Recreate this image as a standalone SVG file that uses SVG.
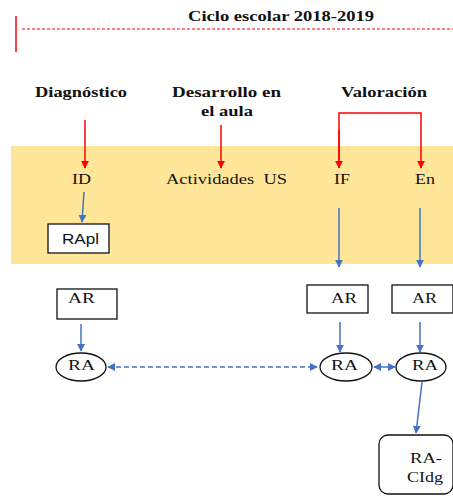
<svg xmlns="http://www.w3.org/2000/svg" width="453" height="500" viewBox="0 0 453 500">
  <style>
    text { fill: #111; font-size: 15px; }
    .bold { font-weight: bold; }
    .sans { font-size: 14px; }
    .box { fill: #fff; stroke: #111; stroke-width: 1.3; }
    .red { stroke: #ff0000; stroke-width: 1.5; fill: none; }
    .blue { stroke: #4472c4; stroke-width: 1.5; fill: none; }
  </style>
  <defs>
    <marker id="arrRed" viewBox="0 0 10 10" refX="9" refY="5" markerWidth="8" markerHeight="8" markerUnits="userSpaceOnUse" orient="auto">
      <path d="M0,0 L10,5 L0,10 z" fill="#ff0000"/>
    </marker>
    <marker id="arrBlue" viewBox="0 0 10 10" refX="9" refY="5" markerWidth="8" markerHeight="8" markerUnits="userSpaceOnUse" orient="auto-start-reverse">
      <path d="M0,0 L10,5 L0,10 z" fill="#4472c4"/>
    </marker>
  </defs>

  <g font-family="'Liberation Serif', 'Times New Roman', serif">
  <!-- school-year timeline -->
  <g id="timeline">
    <line x1="16" y1="16" x2="16" y2="52" stroke="#ff0000" stroke-width="1.5"/>
    <line x1="22" y1="29" x2="453" y2="29" stroke="#ff0000" stroke-width="1" stroke-dasharray="3,2"/>
    <text class="bold" x="188" y="21" textLength="186" lengthAdjust="spacingAndGlyphs">Ciclo escolar 2018-2019</text>
  </g>

  <!-- yellow band -->
  <rect x="11" y="146" width="442" height="118" fill="#ffe699"/>

  <!-- stage headings -->
  <g id="diagnostico"><text class="bold" x="35" y="97" textLength="92" lengthAdjust="spacingAndGlyphs">Diagnóstico</text></g>
  <g id="desarrollo">
    <text class="bold" x="172" y="97" textLength="109" lengthAdjust="spacingAndGlyphs">Desarrollo en</text>
    <text class="bold" x="201" y="116" textLength="52" lengthAdjust="spacingAndGlyphs">el aula</text>
  </g>
  <g id="valoracion"><text class="bold" x="341" y="97" textLength="86" lengthAdjust="spacingAndGlyphs">Valoración</text></g>

  <!-- band items -->
  <g id="ID"><text x="72" y="184" textLength="19" lengthAdjust="spacingAndGlyphs">ID</text></g>
  <g id="actividades"><text x="166" y="184" textLength="121" lengthAdjust="spacingAndGlyphs" xml:space="preserve">Actividades  US</text></g>
  <g id="IF"><text x="334" y="184" textLength="16" lengthAdjust="spacingAndGlyphs">IF</text></g>
  <g id="En"><text x="415" y="184" textLength="20" lengthAdjust="spacingAndGlyphs">En</text></g>

  <g id="RApl">
    <rect class="box" x="48" y="224" width="61" height="29"/>
    <text class="sans" font-family="'Liberation Sans', Arial, sans-serif" x="62" y="244" textLength="37" lengthAdjust="spacingAndGlyphs">RApl</text>
  </g>

  <!-- lower nodes -->
  <g id="AR1">
    <rect class="box" x="57" y="289" width="60" height="30"/>
    <text x="68" y="303" textLength="27" lengthAdjust="spacingAndGlyphs">AR</text>
  </g>
  <g id="AR2">
    <rect class="box" x="307" y="285" width="61" height="28"/>
    <text x="331" y="303" textLength="26" lengthAdjust="spacingAndGlyphs">AR</text>
  </g>
  <g id="AR3">
    <rect class="box" x="392" y="285" width="61" height="28"/>
    <text x="412" y="303" textLength="25" lengthAdjust="spacingAndGlyphs">AR</text>
  </g>

  <g id="RA1">
    <ellipse class="box" cx="81" cy="367" rx="25" ry="14"/>
    <text x="68" y="370" textLength="27" lengthAdjust="spacingAndGlyphs">RA</text>
  </g>
  <g id="RA2">
    <ellipse class="box" cx="346" cy="367" rx="26" ry="14"/>
    <text x="331" y="370" textLength="27" lengthAdjust="spacingAndGlyphs">RA</text>
  </g>
  <g id="RA3">
    <ellipse class="box" cx="421" cy="367" rx="25" ry="14"/>
    <text x="412" y="370" textLength="26" lengthAdjust="spacingAndGlyphs">RA</text>
  </g>

  <g id="RA-CIdg">
    <rect class="box" x="379" y="435" width="74" height="59" rx="9"/>
    <text x="410" y="463" textLength="32" lengthAdjust="spacingAndGlyphs">RA-</text>
    <text x="407" y="482" textLength="36" lengthAdjust="spacingAndGlyphs">CIdg</text>
  </g>
  </g>

  <!-- connectors -->
  <g id="connectors">
    <line class="red" x1="85" y1="120" x2="85" y2="168" marker-end="url(#arrRed)"/>
    <line class="red" x1="221" y1="125" x2="221" y2="168" marker-end="url(#arrRed)"/>
    <polyline class="red" points="339,168 339,113 421,113 421,168" marker-end="url(#arrRed)"/>
    <line class="red" x1="339" y1="130" x2="339" y2="168" marker-end="url(#arrRed)"/>

    <line class="blue" x1="84" y1="192" x2="82" y2="222" marker-end="url(#arrBlue)"/>
    <line class="blue" x1="339" y1="208" x2="339" y2="267" marker-end="url(#arrBlue)"/>
    <line class="blue" x1="420" y1="208" x2="420" y2="267" marker-end="url(#arrBlue)"/>

    <line class="blue" x1="81" y1="324" x2="81" y2="351" marker-end="url(#arrBlue)"/>
    <line class="blue" x1="340" y1="322" x2="340" y2="352" marker-end="url(#arrBlue)"/>
    <line class="blue" x1="420" y1="322" x2="420" y2="352" marker-end="url(#arrBlue)"/>

    <line class="blue" x1="108" y1="367" x2="317" y2="367" stroke-dasharray="5,3" marker-start="url(#arrBlue)" marker-end="url(#arrBlue)"/>
    <line class="blue" x1="374" y1="367" x2="395" y2="367" marker-start="url(#arrBlue)" marker-end="url(#arrBlue)"/>

    <line class="blue" x1="422" y1="382" x2="416" y2="433" marker-end="url(#arrBlue)"/>
  </g>
</svg>
